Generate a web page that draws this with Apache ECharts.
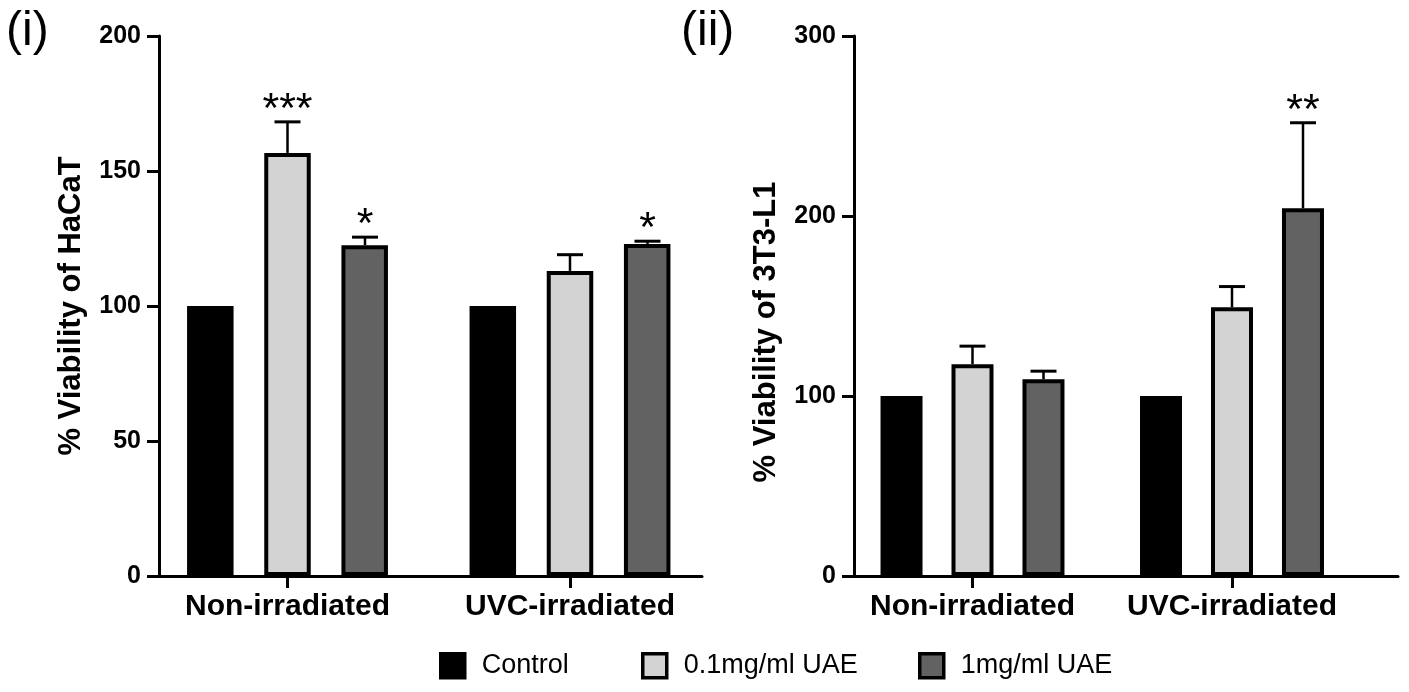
<!DOCTYPE html>
<html>
<head>
<meta charset="utf-8">
<script src="https://cdn.jsdelivr.net/npm/echarts@6/dist/echarts.min.js"></script>
<style>
html,body{margin:0;padding:0;background:#fff;}
#chart{width:1409px;height:692px;}
</style>
</head>
<body>
<div id="chart"></div>
<script>
// ---- data ----
const categories = ['Non-irradiated', 'UVC-irradiated'];
const seriesNames = ['Control', '0.1mg/ml UAE', '1mg/ml UAE'];

// (i) HaCaT
const hacatControl = [100, 100];
const hacatLow = [156.7, 113];
const hacatHigh = [122.5, 123];
const hacatControlSD = [0, 0];
const hacatLowSD = [11.5, 6];
const hacatHighSD = [3, 1];
const hacatControlStars = ['', ''];
const hacatLowStars = ['***', ''];
const hacatHighStars = ['*', '*'];

// (ii) 3T3-L1
const t3Control = [100, 100];
const t3Low = [117.7, 149.3];
const t3High = [109.3, 204.3];
const t3ControlSD = [0, 0];
const t3LowSD = [10, 11.5];
const t3HighSD = [4.5, 47.5];
const t3ControlStars = ['', ''];
const t3LowStars = ['', ''];
const t3HighStars = ['', '**'];

const yTicksLeft = {min: 0, max: 200, interval: 50};
const yTicksRight = {min: 0, max: 300, interval: 100};

// ---- styles ----
const colors = ['#000000', '#d3d3d3', '#626262'];
const FONT = 'Liberation Sans, Arial, sans-serif';
const TOP = 36, H = 540;

const chart = echarts.init(document.getElementById('chart'));

function errRender(offset, stars) {
  return function (params, api) {
    const cat = api.value(0), m = api.value(1), sd = api.value(2);
    const children = [];
    const x = api.coord([cat, m])[0] + offset;
    const yb = api.coord([cat, m])[1];
    const yt = api.coord([cat, m + sd])[1];
    if (sd > 0) {
      children.push({type: 'line', shape: {x1: x, y1: yb, x2: x, y2: yt}, style: {stroke: '#000', lineWidth: 2.5}});
      children.push({type: 'line', shape: {x1: x - 13, y1: yt, x2: x + 13, y2: yt}, style: {stroke: '#000', lineWidth: 3}});
    }
    const s = stars[params.dataIndex];
    if (s) {
      children.push({type: 'text', style: {text: s, x: x, y: yt - 12, align: 'center', verticalAlign: 'middle',
        font: '43px ' + FONT, fill: '#000'}});
    }
    return {type: 'group', children: children};
  };
}

function barSeries(name, idx, data, gridIdx, barW, gap) {
  return {
    type: 'bar', name: name, xAxisIndex: gridIdx * 2, yAxisIndex: gridIdx * 2,
    data: data, barWidth: barW, barGap: gap,
    itemStyle: {color: colors[idx], borderColor: '#000', borderWidth: 4},
    emphasis: {disabled: true}, z: 2
  };
}
function errSeries(means, sds, stars, gridIdx, offset) {
  return {
    type: 'custom', xAxisIndex: gridIdx * 2, yAxisIndex: gridIdx * 2,
    data: means.map((m, i) => [i, m, sds[i]]),
    renderItem: errRender(offset, stars), z: 3, silent: true
  };
}

const LBW = 46.5, LGAP = '66%', LPITCH = 77.5;
const RBW = 42, RGAP = '69%', RPITCH = 71;

function frameY(t, name, pad) {
  return {
    type: 'value', gridIndex: 0, min: t.min, max: t.max, interval: t.interval,
    name: name, nameLocation: 'middle', nameGap: 72, nameRotate: 90,
    nameTextStyle: {fontFamily: FONT, fontWeight: 'bold', fontSize: 31, color: '#000', padding: pad},
    axisLine: {show: true, lineStyle: {color: '#000', width: 3}},
    axisTick: {show: true, length: 12, lineStyle: {color: '#000', width: 3}},
    axisLabel: {fontFamily: FONT, fontWeight: 'bold', fontSize: 25, color: '#000', margin: 18},
    splitLine: {show: false}
  };
}
function catX(gridIdx) {
  return {type: 'category', gridIndex: gridIdx, data: categories,
    axisLine: {show: false},
    axisTick: {show: true, alignWithLabel: true, interval: 0, length: 12, lineStyle: {color: '#000', width: 3}},
    axisLabel: {interval: 0, fontFamily: FONT, fontWeight: 'bold', fontSize: 30, color: '#000', margin: 16}};
}
function frameX(gridIdx) {
  return {type: 'value', gridIndex: gridIdx, min: 0, max: 1,
    axisLine: {show: true, onZero: false, lineStyle: {color: '#000', width: 3}},
    axisTick: {show: false}, axisLabel: {show: false}, splitLine: {show: false}};
}

const option = {
  backgroundColor: '#fff',
  animation: false,
  grid: [
    {left: 146.25, top: TOP, width: 565, height: H},   // 0 bars (i)
    {left: 159, top: TOP, width: 543, height: H},      // 1 frame (i)
    {left: 842.75, top: TOP, width: 519, height: H},   // 2 bars (ii)
    {left: 854, top: TOP, width: 544, height: H}       // 3 frame (ii)
  ],
  xAxis: [catX(0), frameX(1), catX(2), frameX(3)],
  yAxis: [
    {type: 'value', gridIndex: 0, min: yTicksLeft.min, max: yTicksLeft.max, interval: yTicksLeft.interval, show: false},
    Object.assign(frameY(yTicksLeft, '% Viability of HaCaT', [0, 0, 0, 0]), {gridIndex: 1}),
    {type: 'value', gridIndex: 2, min: yTicksRight.min, max: yTicksRight.max, interval: yTicksRight.interval, show: false},
    Object.assign(frameY(yTicksRight, '% Viability of 3T3-L1', [0, 52, 0, 0]), {gridIndex: 3})
  ],
  legend: [
    {data: [seriesNames[0]], left: 434, top: 647},
    {data: [seriesNames[1]], left: 636, top: 647},
    {data: [seriesNames[2]], left: 913, top: 647}
  ].map(l => Object.assign(l, {
    icon: 'rect', itemWidth: 24, itemHeight: 24, selectedMode: false,
    itemStyle: {borderWidth: 3.5, borderColor: '#000'},
    textStyle: {fontFamily: FONT, fontSize: 27, color: '#000', padding: [0, 0, 0, 12]}
  })),
  graphic: [
    {type: 'text', left: 6, top: 8, style: {text: '(i)', font: '48px ' + FONT, fill: '#000'}},
    {type: 'text', left: 681, top: 8, style: {text: '(ii)', font: '48px ' + FONT, fill: '#000'}}
  ],
  series: [
    barSeries(seriesNames[0], 0, hacatControl, 0, LBW, LGAP),
    barSeries(seriesNames[1], 1, hacatLow, 0, LBW, LGAP),
    barSeries(seriesNames[2], 2, hacatHigh, 0, LBW, LGAP),
    errSeries(hacatControl, hacatControlSD, hacatControlStars, 0, -LPITCH),
    errSeries(hacatLow, hacatLowSD, hacatLowStars, 0, 0),
    errSeries(hacatHigh, hacatHighSD, hacatHighStars, 0, LPITCH),
    barSeries(seriesNames[0], 0, t3Control, 1, RBW, RGAP),
    barSeries(seriesNames[1], 1, t3Low, 1, RBW, RGAP),
    barSeries(seriesNames[2], 2, t3High, 1, RBW, RGAP),
    errSeries(t3Control, t3ControlSD, t3ControlStars, 1, -RPITCH),
    errSeries(t3Low, t3LowSD, t3LowStars, 1, 0),
    errSeries(t3High, t3HighSD, t3HighStars, 1, RPITCH)
  ]
};
chart.setOption(option);
</script>
</body>
</html>
